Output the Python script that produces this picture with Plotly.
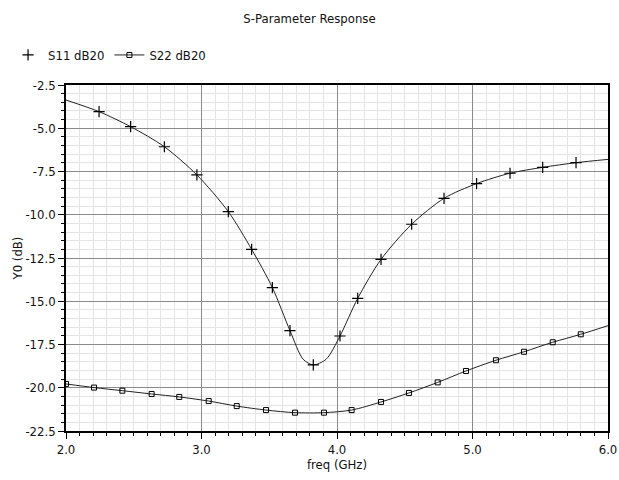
import plotly.graph_objects as go

# S11 curve samples (GHz, dB)
s11_freq = [2.0, 2.244, 2.477, 2.726, 2.966, 3.198, 3.370, 3.523, 3.653, 3.75, 3.825, 3.92, 4.022, 4.153, 4.325, 4.551, 4.790, 5.030, 5.277, 5.518, 5.764, 6.0]
s11_db = [-3.37, -4.04, -4.91, -6.07, -7.70, -9.82, -12.0, -14.21, -16.70, -18.35, -18.68, -18.35, -17.01, -14.83, -12.58, -10.55, -9.05, -8.20, -7.60, -7.26, -6.99, -6.80]
# S11 marker positions
s11_mk_freq = [2.244, 2.477, 2.726, 2.966, 3.198, 3.370, 3.523, 3.653, 3.825, 4.022, 4.153, 4.325, 4.551, 4.790, 5.030, 5.277, 5.518, 5.764]
s11_mk_db = [-4.04, -4.91, -6.07, -7.70, -9.82, -12.0, -14.21, -16.70, -18.68, -17.01, -14.83, -12.58, -10.55, -9.05, -8.20, -7.60, -7.26, -6.99]

# S22 curve samples
s22_freq = [2.0, 2.207, 2.416, 2.632, 2.836, 3.053, 3.260, 3.476, 3.690, 3.904, 4.108, 4.325, 4.531, 4.743, 4.952, 5.173, 5.380, 5.592, 5.799, 6.0]
s22_db = [-19.78, -19.99, -20.17, -20.36, -20.53, -20.77, -21.06, -21.29, -21.44, -21.44, -21.29, -20.82, -20.30, -19.69, -19.03, -18.41, -17.92, -17.37, -16.91, -16.41]
s22_mk_freq = s22_freq[:-1]
s22_mk_db = s22_db[:-1]

x_ticks = [2.0, 3.0, 4.0, 5.0, 6.0]
y_ticks = [-2.5, -5.0, -7.5, -10.0, -12.5, -15.0, -17.5, -20.0, -22.5]

FONT = "DejaVu Sans Condensed, Liberation Sans Narrow, Liberation Sans, Arial, sans-serif"
LC = "#222222"
W, H = 619, 480

fig = go.Figure()
fig.add_trace(go.Scatter(x=s11_freq, y=s11_db, mode="lines", line=dict(color=LC, width=1, shape="spline", smoothing=0.8), showlegend=False, hoverinfo="skip"))
fig.add_trace(go.Scatter(x=s22_freq, y=s22_db, mode="lines", line=dict(color=LC, width=1, shape="spline", smoothing=0.8), showlegend=False, hoverinfo="skip"))
fig.add_trace(go.Scatter(x=s11_mk_freq, y=s11_mk_db, mode="markers", name="S11 dB20",
                         marker=dict(symbol="cross-thin", size=8, line=dict(color="#000", width=1.2), color="#000")))
fig.add_trace(go.Scatter(x=s22_mk_freq, y=s22_mk_db, mode="markers", showlegend=False,
                         marker=dict(symbol="square-open", size=5, line=dict(color="#000", width=1), color="#000")))
fig.add_trace(go.Scatter(x=[None], y=[None], mode="lines+markers", name="S22 dB20",
                         line=dict(color=LC, width=1),
                         marker=dict(symbol="square-open", size=5, line=dict(color="#000", width=1), color="#000")))

fig.update_layout(
    width=W, height=H,
    margin=dict(l=66, r=11, t=85, b=49),
    paper_bgcolor="white", plot_bgcolor="white",
    font=dict(family=FONT, size=13, color="#111"),
    title=dict(text="S-Parameter Response", x=0.5, xanchor="center", y=1 - 18 / H, yref="container", yanchor="middle",
               font=dict(family=FONT, size=13, color="#111")),
    legend=dict(orientation="h", x=0.013, xref="container", xanchor="left", y=1 - 55 / H, yref="container", yanchor="middle",
                font=dict(family=FONT, size=13), itemwidth=30, tracegroupgap=0, bgcolor="rgba(0,0,0,0)"),
    showlegend=True,
)
fig.update_xaxes(
    range=[2, 6], tickvals=x_ticks, ticktext=[f"{v:.1f}" for v in x_ticks],
    automargin=False,
    showgrid=True, gridcolor="#8a8a8a", gridwidth=1,
    showline=True, linecolor="#000", linewidth=1.5, mirror=True,
    ticks="outside", ticklen=6, tickcolor="#000",
    minor=dict(dtick=0.1, showgrid=True, gridcolor="#e4e4e4", ticks="outside", ticklen=3, tickcolor="#000"),
    zeroline=False,
    title=dict(text="freq (GHz)", standoff=2, font=dict(family=FONT, size=13)),
    tickfont=dict(family=FONT, size=13),
)
fig.update_yaxes(
    range=[-22.5, -2.5], tickvals=y_ticks, ticktext=[f"{v:.1f}" for v in y_ticks],
    automargin=False,
    showgrid=True, gridcolor="#8a8a8a", gridwidth=1,
    showline=True, linecolor="#000", linewidth=1.5, mirror=True,
    ticks="outside", ticklen=6, tickcolor="#000",
    minor=dict(dtick=0.5, showgrid=True, gridcolor="#e4e4e4", ticks="outside", ticklen=3, tickcolor="#000"),
    zeroline=False,
    title=dict(text="Y0 (dB)", standoff=0, font=dict(family=FONT, size=13)),
    tickfont=dict(family=FONT, size=13),
)

fig.write_html("out.html", config={"displayModeBar": False},
               post_script="document.body.style.margin='0px';document.body.style.overflow='hidden';")
